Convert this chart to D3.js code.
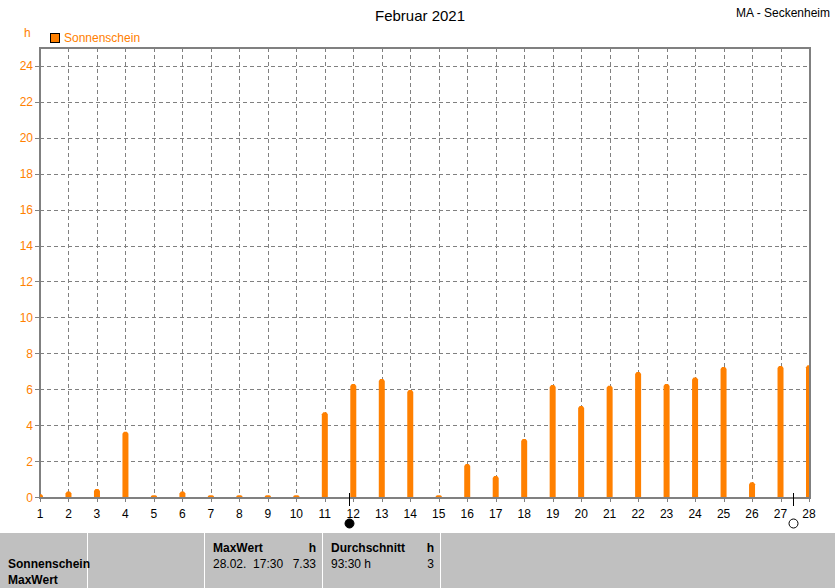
<!DOCTYPE html>
<html><head><meta charset="utf-8">
<script src="https://cdn.jsdelivr.net/npm/d3@7"></script>
<style>
body{margin:0;background:#fff;}
text{font-family:"Liberation Sans",Arial,sans-serif;}
</style></head>
<body><svg id="c" width="835" height="588"></svg>
<script>
const days = d3.range(1, 29);
const sunshine = [0.15,0.3,0.45,3.64,0.1,0.3,0.1,0.1,0.1,0.1,4.72,6.29,6.57,5.96,0.1,1.84,1.17,3.23,6.24,5.07,6.2,6.96,6.29,6.66,7.24,0.82,7.3,7.33];
const yTicks = [0,2,4,6,8,10,12,14,16,18,20,22,24];
const moonPhases = [{day: 11.86, type: "new"}, {day: 27.45, type: "full"}];
const title = "Februar 2021";
const station = "MA - Seckenheim";
const seriesName = "Sonnenschein";

const svg = d3.select("#c");
const L = 40, R = 809, T = 48, B = 497;
const x = d3.scaleLinear().domain([1, 28]).range([L, R]);
const y = d3.scaleLinear().domain([0, 25]).range([B, T]);
const orange = "#ff8000", grid = "#808080";

svg.append("rect").attr("width", 835).attr("height", 588).attr("fill", "#fff");

// grid
const g = svg.append("g");
g.selectAll(".vg").data(days.slice(1, -1)).enter().append("line")
  .attr("x1", d => Math.round(x(d)) + 0.5).attr("x2", d => Math.round(x(d)) + 0.5)
  .attr("y1", T).attr("y2", B).attr("stroke", grid).attr("stroke-dasharray", "4,3");
g.selectAll(".hg").data(yTicks.slice(1)).enter().append("line")
  .attr("x1", L).attr("x2", R).attr("y1", d => Math.round(y(d)) + 0.5).attr("y2", d => Math.round(y(d)) + 0.5)
  .attr("stroke", grid).attr("stroke-dasharray", "4,3");

// frame (axis lines)
svg.append("line").attr("x1", L).attr("x2", R + 1).attr("y1", T).attr("y2", T).attr("stroke", grid).attr("stroke-width", 2);
svg.append("line").attr("x1", R + 1).attr("x2", R + 1).attr("y1", T - 1).attr("y2", B + 2).attr("stroke", grid).attr("stroke-width", 2);
svg.append("line").attr("x1", L).attr("x2", L).attr("y1", T - 1).attr("y2", B + 2).attr("stroke", grid).attr("stroke-width", 2);
svg.append("line").attr("x1", L - 1).attr("x2", R + 2).attr("y1", B + 1).attr("y2", B + 1).attr("stroke", grid).attr("stroke-width", 2);

// bars
svg.append("clipPath").attr("id", "pc").append("rect").attr("x", L).attr("y", T).attr("width", R - L).attr("height", B - T);
const bw = 6;
svg.append("g").attr("clip-path", "url(#pc)").selectAll("path").data(sunshine).enter().append("path")
  .attr("fill", orange)
  .attr("d", (v, i) => {
    const cx = x(days[i]), x0 = cx - bw / 2, x1 = cx + bw / 2, yt = y(v), yb = B;
    const r = Math.min(2, (yb - yt) / 2);
    return `M${x0},${yb}L${x0},${yt + r}L${x0 + 1.5},${yt}L${x1 - 1.5},${yt}L${x1},${yt + r}L${x1},${yb}Z`;
  });

// y axis
const ya = svg.append("g");
ya.selectAll("line").data(yTicks).enter().append("line")
  .attr("x1", L - 5).attr("x2", L).attr("y1", d => Math.round(y(d)) + 0.5).attr("y2", d => Math.round(y(d)) + 0.5).attr("stroke", grid);
ya.selectAll("text").data(yTicks).enter().append("text")
  .attr("x", 33).attr("y", d => y(d) + 4.5).attr("text-anchor", "end").attr("font-size", 12).attr("fill", orange).text(d => d);
svg.append("text").attr("x", 24).attr("y", 37).attr("font-size", 12).attr("fill", orange).text("h");

// x axis
const xa = svg.append("g");
xa.selectAll("line").data(days).enter().append("line")
  .attr("x1", d => Math.round(x(d)) + 0.5).attr("x2", d => Math.round(x(d)) + 0.5).attr("y1", B + 1).attr("y2", B + 5).attr("stroke", grid);
xa.selectAll("text").data(days).enter().append("text")
  .attr("x", d => x(d)).attr("y", 518).attr("text-anchor", "middle").attr("font-size", 12).attr("fill", "#000").text(d => d);

// moon phases
const mp = svg.append("g");
moonPhases.forEach(m => {
  const mx = Math.round(x(m.day)) + 0.5;
  mp.append("line").attr("x1", mx).attr("x2", mx).attr("y1", 493).attr("y2", 506).attr("stroke", "#000");
  mp.append("circle").attr("cx", mx).attr("cy", 523.5).attr("r", 4.5)
    .attr("fill", m.type === "new" ? "#000" : "#fff").attr("stroke", "#000").attr("stroke-width", 1);
});

// title & legend
svg.append("text").attr("x", 420).attr("y", 21).attr("text-anchor", "middle").attr("font-size", 15).attr("fill", "#000").text(title);
svg.append("text").attr("x", 830).attr("y", 17).attr("text-anchor", "end").attr("font-size", 12).attr("fill", "#000").text(station);
svg.append("rect").attr("x", 50.5).attr("y", 33.5).attr("width", 9).attr("height", 9).attr("fill", orange).attr("stroke", "#000");
svg.append("text").attr("x", 64).attr("y", 42).attr("font-size", 12).attr("fill", orange).text(seriesName);

// bottom table
const tb = svg.append("g");
tb.append("rect").attr("x", 0).attr("y", 533).attr("width", 835).attr("height", 55).attr("fill", "#c0c0c0");
[87.5, 204.5, 322.5, 440.5].forEach(sx => tb.append("line").attr("x1", sx).attr("x2", sx).attr("y1", 533).attr("y2", 588).attr("stroke", "#fff"));
const cells = [
  {x: 8, y: 568, t: "Sonnenschein", b: true},
  {x: 8, y: 584, t: "MaxWert", b: true},
  {x: 213, y: 552, t: "MaxWert", b: true},
  {x: 316, y: 552, t: "h", b: true, a: "end"},
  {x: 213, y: 568, t: "28.02.  17:30", b: false},
  {x: 316, y: 568, t: "7.33", b: false, a: "end"},
  {x: 331, y: 552, t: "Durchschnitt", b: true},
  {x: 434, y: 552, t: "h", b: true, a: "end"},
  {x: 331, y: 568, t: "93:30 h", b: false},
  {x: 434, y: 568, t: "3", b: false, a: "end"}
];
cells.forEach(c => tb.append("text").attr("x", c.x).attr("y", c.y).attr("font-size", 12)
  .attr("font-weight", c.b ? "bold" : "normal").attr("text-anchor", c.a || "start")
  .attr("fill", "#000").attr("xml:space", "preserve").style("white-space", "pre").text(c.t));
</script></body></html>
